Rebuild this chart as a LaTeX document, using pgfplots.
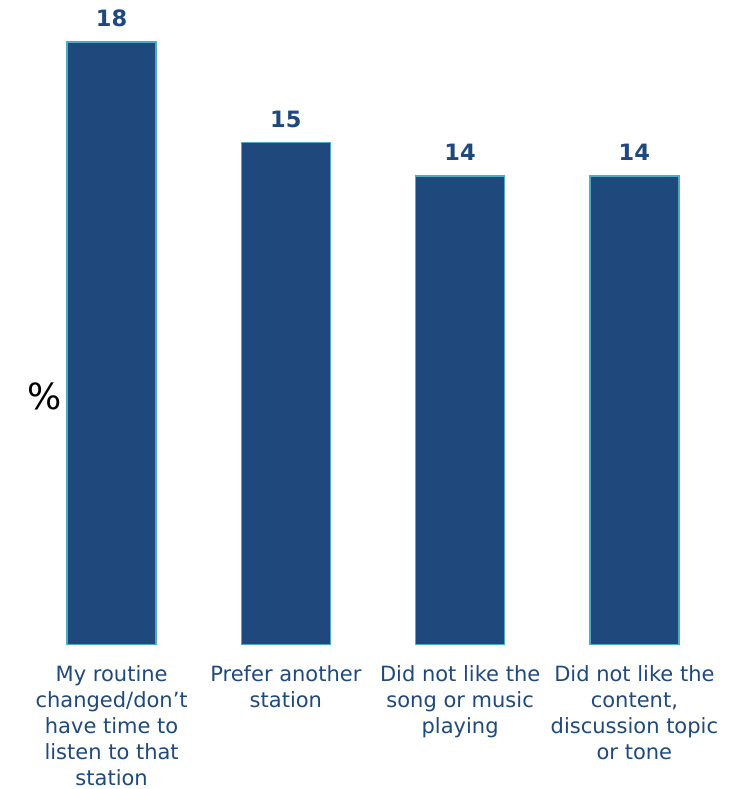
\documentclass[border=0pt]{standalone}
\usepackage{fontspec}
\setmainfont{DejaVu Sans}
\usepackage{pgfplots}
\pgfplotsset{compat=1.18}
\definecolor{barfill}{RGB}{31,73,125}
\definecolor{barline}{RGB}{75,172,198}
\definecolor{txtblue}{RGB}{31,73,125}
\begin{document}
\begin{tikzpicture}[x=1pt,y=1pt]
\path[use as bounding box] (0,0) rectangle (743,789);
\begin{axis}[
  at={(24.5pt,144pt)}, anchor=south west,
  scale only axis, width=697pt, height=645pt,
  xmin=-0.5, xmax=3.5, ymin=0, ymax=19.25,
  axis lines=none,
  ybar, bar width=89pt,
  ytick=\empty, xtick=\empty,
  /pgf/number format/assume math mode=true,
  nodes near coords={\pgfmathprintnumber{\pgfplotspointmeta}},
  every node near coord/.append style={font=\fontsize{22.5}{26}\selectfont\bfseries, text=txtblue, anchor=base, yshift=15pt, inner sep=0pt},
]
\addplot[fill=barfill, draw=barline, line width=1.6pt] coordinates {(0,18) (1,15) (2,14) (3,14)};
\end{axis}
\begin{axis}[
  at={(24.5pt,144pt)}, anchor=south west,
  scale only axis, width=697pt, height=645pt,
  xmin=-0.5, xmax=3.5, ymin=0, ymax=19.25,
  axis lines=none, ytick=\empty,
  xtick={0,1,2,3},
  xticklabels={{My routine\\changed/don’t\\have time to\\listen to that\\station},
               {Prefer another\\station},
               {Did not like the\\song or music\\playing},
               {Did not like the\\content,\\discussion topic\\or tone}},
  xticklabel style={font=\fontsize{21}{26}\selectfont, text=txtblue, align=center, anchor=north, inner sep=0pt, yshift=-20pt},
  hide x axis=false, x axis line style={draw=none}, major tick length=0pt,
]
\end{axis}
\node[font=\fontsize{36}{40}\selectfont, anchor=center] at (45,393) {\%};
\end{tikzpicture}
\end{document}
